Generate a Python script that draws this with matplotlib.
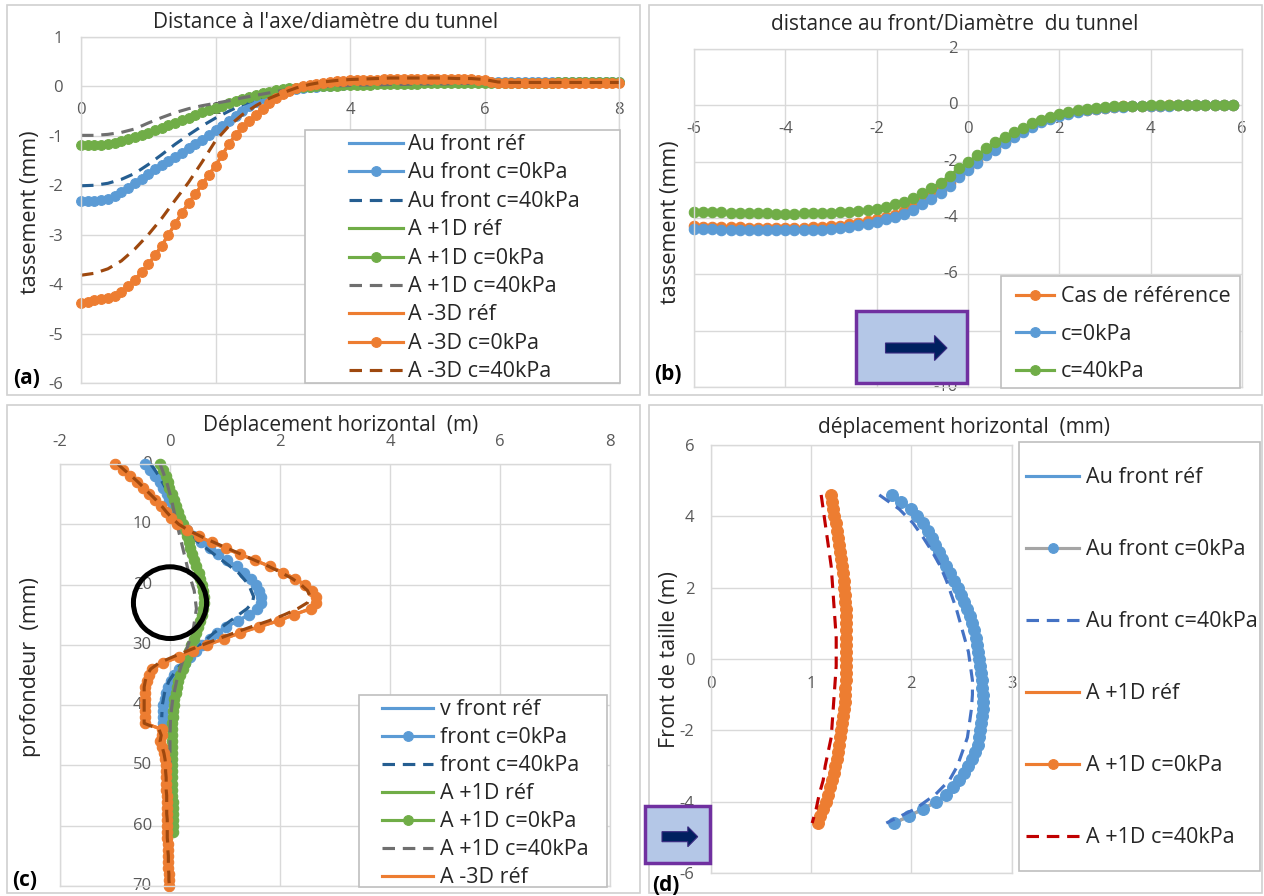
import numpy as np
import matplotlib
matplotlib.use('Agg')
import matplotlib.pyplot as plt
from matplotlib.patches import Rectangle, Ellipse, Polygon
from matplotlib.lines import Line2D

plt.rcParams['font.family'] = ['Open Sans', 'DejaVu Sans']
plt.rcParams['axes.unicode_minus'] = False

# ---------------- data ----------------
# (a) settlement vs distance to axis / tunnel diameter
dist_a = np.round(np.linspace(0, 8, 81), 2)
dist_a_dash = np.round(np.linspace(0, 8, 41), 2)

a_front_c0 = [-2.31, -2.31, -2.31, -2.30, -2.27, -2.22, -2.14, -2.05, -1.96, -1.87,
              -1.77, -1.68, -1.58, -1.50, -1.42, -1.34, -1.25, -1.17, -1.08, -0.99,
              -0.89, -0.80, -0.70, -0.60, -0.50, -0.40, -0.31, -0.23, -0.16, -0.11,
              -0.08, -0.06, -0.05, -0.03, -0.02, -0.01, 0.00, 0.01, 0.02, 0.03,
              0.04, 0.05, 0.05, 0.06, 0.06, 0.06, 0.07, 0.07, 0.07, 0.07,
              0.08, 0.08, 0.08, 0.08, 0.08, 0.08, 0.08, 0.08, 0.08, 0.08,
              0.08, 0.08, 0.08, 0.08, 0.08, 0.08, 0.08, 0.08, 0.09, 0.09,
              0.09, 0.09, 0.09, 0.09, 0.09, 0.09, 0.09, 0.09, 0.09, 0.09,
              0.09]
a_front_ref = list(a_front_c0)
a_front_c40 = [-2.01, -2.00, -1.96, -1.88, -1.76, -1.58, -1.38, -1.17, -0.98, -0.80,
               -0.64, -0.50, -0.37, -0.26, -0.17, -0.10, -0.05, -0.02, 0.00, 0.02,
               0.03, 0.04, 0.05, 0.06, 0.06, 0.07, 0.07, 0.07, 0.08, 0.08,
               0.08, 0.08, 0.08, 0.08, 0.08, 0.08, 0.08, 0.08, 0.08, 0.08,
               0.08]
a_p1d_c0 = [-1.19, -1.19, -1.19, -1.18, -1.16, -1.14, -1.11, -1.07, -1.03, -0.98,
            -0.94, -0.89, -0.84, -0.79, -0.73, -0.68, -0.63, -0.57, -0.52, -0.48,
            -0.43, -0.39, -0.34, -0.30, -0.26, -0.22, -0.18, -0.14, -0.11, -0.08,
            -0.06, -0.04, -0.03, -0.02, -0.01, 0.00, 0.00, 0.01, 0.01, 0.02,
            0.02, 0.03, 0.03, 0.03, 0.04, 0.04, 0.04, 0.05, 0.05, 0.05,
            0.05, 0.06, 0.06, 0.06, 0.06, 0.06, 0.06, 0.06, 0.06, 0.06,
            0.06, 0.07, 0.07, 0.07, 0.07, 0.07, 0.07, 0.07, 0.07, 0.07,
            0.07, 0.08, 0.08, 0.08, 0.08, 0.08, 0.08, 0.08, 0.08, 0.08,
            0.08]
a_p1d_ref = list(a_p1d_c0)
a_p1d_c40 = [-0.99, -0.99, -0.97, -0.93, -0.86, -0.74, -0.63, -0.53, -0.45, -0.39,
             -0.34, -0.29, -0.23, -0.18, -0.13, -0.08, -0.05, -0.02, 0.00, 0.01,
             0.02, 0.03, 0.03, 0.04, 0.04, 0.05, 0.05, 0.05, 0.06, 0.06,
             0.06, 0.07, 0.07, 0.07, 0.07, 0.07, 0.07, 0.07, 0.07, 0.07,
             0.07]
a_m3d_c0 = [-4.39, -4.36, -4.33, -4.31, -4.28, -4.23, -4.15, -4.04, -3.91, -3.76,
            -3.60, -3.42, -3.22, -3.00, -2.78, -2.56, -2.36, -2.18, -1.98, -1.79,
            -1.60, -1.39, -1.16, -0.98, -0.83, -0.70, -0.58, -0.45, -0.33, -0.24,
            -0.16, -0.09, -0.04, 0.00, 0.03, 0.05, 0.07, 0.09, 0.10, 0.11,
            0.12, 0.13, 0.13, 0.14, 0.14, 0.15, 0.15, 0.15, 0.15, 0.15,
            0.15, 0.15, 0.15, 0.15, 0.15, 0.15, 0.15, 0.15, 0.15, 0.14,
            0.13, 0.09, 0.07, 0.07, 0.07, 0.07, 0.07, 0.07, 0.07, 0.07,
            0.07, 0.07, 0.07, 0.07, 0.07, 0.07, 0.07, 0.07, 0.06, 0.06,
            0.06]
a_m3d_ref = list(a_m3d_c0)
a_m3d_c40 = [-3.82, -3.78, -3.69, -3.53, -3.29, -3.00, -2.67, -2.30, -1.94, -1.53,
             -1.10, -0.80, -0.57, -0.39, -0.24, -0.13, -0.03, 0.04, 0.09, 0.12,
             0.14, 0.15, 0.16, 0.17, 0.17, 0.17, 0.17, 0.17, 0.16, 0.16,
             0.14, 0.09, 0.08, 0.08, 0.08, 0.08, 0.08, 0.08, 0.08, 0.08,
             0.08]

# (b) settlement vs distance to the face / tunnel diameter
dist_b = np.round(np.linspace(-6, 5.8, 60), 2)
b_ref = [-4.30, -4.31, -4.31, -4.32, -4.33, -4.33, -4.34, -4.34, -4.34, -4.35,
         -4.35, -4.35, -4.34, -4.33, -4.32, -4.30, -4.27, -4.23, -4.18, -4.12,
         -4.05, -3.97, -3.88, -3.76, -3.60, -3.40, -3.22, -3.01, -2.76, -2.48,
         -2.22, -1.96, -1.71, -1.50, -1.29, -1.09, -0.89, -0.72, -0.57, -0.45,
         -0.35, -0.27, -0.21, -0.16, -0.12, -0.09, -0.06, -0.04, -0.03, -0.02,
         -0.01, -0.01, 0.00, 0.00, 0.00, 0.00, 0.00, 0.00, 0.00, 0.00]
b_c0 = [-4.39, -4.40, -4.40, -4.41, -4.42, -4.42, -4.43, -4.43, -4.43, -4.44,
        -4.44, -4.44, -4.43, -4.42, -4.41, -4.39, -4.36, -4.31, -4.26, -4.20,
        -4.13, -4.05, -3.97, -3.86, -3.70, -3.49, -3.32, -3.11, -2.85, -2.56,
        -2.30, -2.04, -1.78, -1.57, -1.35, -1.14, -0.93, -0.76, -0.60, -0.48,
        -0.37, -0.29, -0.23, -0.18, -0.13, -0.10, -0.07, -0.05, -0.04, -0.03,
        -0.02, -0.01, -0.01, 0.00, 0.00, 0.00, 0.00, 0.00, 0.00, 0.00]
b_c40 = [-3.78, -3.78, -3.79, -3.80, -3.81, -3.82, -3.83, -3.84, -3.84, -3.85,
         -3.85, -3.85, -3.84, -3.83, -3.82, -3.81, -3.79, -3.77, -3.75, -3.72,
         -3.68, -3.61, -3.52, -3.42, -3.30, -3.13, -2.95, -2.74, -2.50, -2.24,
         -2.02, -1.78, -1.53, -1.30, -1.11, -0.95, -0.80, -0.64, -0.51, -0.40,
         -0.29, -0.22, -0.17, -0.12, -0.08, -0.06, -0.04, -0.03, -0.02, -0.01,
         0.00, 0.00, 0.01, 0.01, 0.02, 0.02, 0.02, 0.02, 0.02, 0.02]

# (c) horizontal displacement vs depth
depth_m3d = np.arange(0, 71)
c_m3d_c0 = [-1.00, -0.86, -0.72, -0.60, -0.49, -0.38, -0.27, -0.17, -0.07, 0.02,
            0.13, 0.30, 0.52, 0.76, 1.01, 1.28, 1.55, 1.82, 2.05, 2.27,
            2.45, 2.58, 2.66, 2.66, 2.56, 2.25, 1.98, 1.62, 1.28, 0.98,
            0.68, 0.42, 0.16, -0.12, -0.32, -0.39, -0.42, -0.45, -0.45, -0.45,
            -0.45, -0.45, -0.45, -0.46, -0.15, -0.14, -0.19, -0.14, -0.11, -0.09,
            -0.08, -0.08, -0.07, -0.07, -0.07, -0.06, -0.06, -0.06, -0.06, -0.05,
            -0.05, -0.05, -0.05, -0.04, -0.04, -0.03, -0.03, -0.03, -0.02, -0.02,
            -0.01]
c_m3d_ref = list(c_m3d_c0)
c_m3d_c40 = [-0.95, -0.83, -0.70, -0.58, -0.47, -0.36, -0.25, -0.15, -0.06, 0.04,
             0.16, 0.34, 0.56, 0.80, 1.05, 1.30, 1.55, 1.80, 2.02, 2.22,
             2.38, 2.50, 2.55, 2.50, 2.32, 2.08, 1.80, 1.48, 1.17, 0.88,
             0.59, 0.32, 0.05, -0.20, -0.35, -0.42, -0.45, -0.47, -0.47, -0.47,
             -0.47, -0.47, -0.47, -0.47, -0.20, -0.16, -0.18, -0.14, -0.11, -0.09,
             -0.08, -0.08, -0.07, -0.07, -0.07, -0.06, -0.06, -0.06, -0.06, -0.05,
             -0.05, -0.05, -0.05, -0.04, -0.04, -0.03, -0.03, -0.03, -0.02, -0.02,
             -0.01]
depth_front = np.arange(0, 44)
c_front_c0 = [-0.46, -0.36, -0.27, -0.19, -0.12, -0.06, -0.01, 0.05, 0.10, 0.16,
              0.22, 0.30, 0.42, 0.57, 0.73, 0.88, 1.04, 1.21, 1.35, 1.48,
              1.56, 1.62, 1.66, 1.65, 1.59, 1.43, 1.24, 1.02, 0.86, 0.72,
              0.59, 0.47, 0.37, 0.27, 0.17, 0.08, 0.01, -0.04, -0.07, -0.10,
              -0.12, -0.13, -0.13, -0.12]
c_front_ref = list(c_front_c0)
depth_front_c40 = [0, 2, 4, 6, 8, 10, 12, 14, 16, 18, 20, 22, 23, 24, 26, 28, 30, 32, 34, 36, 38, 40, 42]
c_front_c40 = [-0.35, -0.20, -0.08, 0.03, 0.12, 0.22, 0.38, 0.66, 0.95, 1.24, 1.43, 1.52,
               1.50, 1.40, 1.10, 0.80, 0.55, 0.33, 0.13, -0.02, -0.10, -0.14, -0.15]
depth_p1d = np.arange(0, 62)
c_p1d_c0 = [-0.18, -0.13, -0.08, -0.04, -0.01, 0.03, 0.07, 0.11, 0.15, 0.19,
            0.23, 0.27, 0.31, 0.34, 0.37, 0.40, 0.44, 0.48, 0.52, 0.55,
            0.58, 0.60, 0.61, 0.61, 0.60, 0.58, 0.55, 0.51, 0.47, 0.43,
            0.38, 0.34, 0.30, 0.27, 0.23, 0.19, 0.15, 0.12, 0.10, 0.08,
            0.07, 0.06, 0.05, 0.04, 0.04, 0.03, 0.03, 0.03, 0.03, 0.03,
            0.03, 0.04, 0.04, 0.04, 0.04, 0.04, 0.05, 0.05, 0.05, 0.05,
            0.05, 0.06]
c_p1d_ref = list(c_p1d_c0)
depth_p1d_c40 = [0, 3, 6, 9, 12, 15, 18, 21, 24, 27, 30, 33, 36, 39, 42, 45, 48, 51]
c_p1d_c40 = [-0.18, -0.06, 0.03, 0.10, 0.18, 0.26, 0.34, 0.44, 0.48, 0.43,
             0.33, 0.22, 0.12, 0.05, 0.01, 0.00, 0.00, 0.00]

# (d) horizontal displacement over the face height
height_d = np.round(np.linspace(4.6, -4.6, 47), 2)
height_d_dash = np.round(np.linspace(4.6, -4.6, 24), 2)
d_front_c0 = [1.81, 1.90, 2.00, 2.06, 2.12, 2.17, 2.21, 2.24, 2.28, 2.31,
              2.35, 2.39, 2.43, 2.47, 2.50, 2.53, 2.56, 2.59, 2.61, 2.63,
              2.65, 2.66, 2.67, 2.68, 2.69, 2.70, 2.71, 2.71, 2.72, 2.72,
              2.72, 2.71, 2.70, 2.69, 2.68, 2.67, 2.64, 2.61, 2.57, 2.53,
              2.48, 2.42, 2.35, 2.25, 2.12, 1.98, 1.83]
d_front_ref = list(d_front_c0)
d_front_c40 = [1.68, 1.88, 2.02, 2.12, 2.21, 2.29, 2.35, 2.40, 2.45, 2.49,
               2.53, 2.57, 2.59, 2.61, 2.61, 2.60, 2.58, 2.56, 2.51, 2.46,
               2.38, 2.24, 2.04, 1.75]
d_p1d_c0 = [1.20, 1.21, 1.22, 1.23, 1.25, 1.26, 1.27, 1.28, 1.29, 1.30,
            1.31, 1.32, 1.33, 1.33, 1.34, 1.34, 1.35, 1.35, 1.35, 1.35,
            1.35, 1.35, 1.35, 1.35, 1.35, 1.35, 1.35, 1.34, 1.34, 1.34,
            1.33, 1.32, 1.31, 1.30, 1.29, 1.28, 1.27, 1.26, 1.24, 1.23,
            1.21, 1.19, 1.17, 1.15, 1.12, 1.09, 1.07]
d_p1d_ref = list(d_p1d_c0)
d_p1d_c40 = [1.10, 1.12, 1.14, 1.16, 1.18, 1.20, 1.21, 1.22, 1.23, 1.24,
             1.25, 1.25, 1.25, 1.24, 1.23, 1.22, 1.21, 1.20, 1.17, 1.14,
             1.12, 1.08, 1.05, 1.01]

# ---------------- style ----------------
BLUE = '#5b9bd5'
ORANGE = '#ed7d31'
GREEN = '#70ad47'
GRAY = '#a5a5a5'
DBLUE = '#255e91'
MBLUE = '#4472c4'
DORANGE = '#9e480e'
DGRAY = '#6f6f6f'
RED = '#c00000'
GRID = '#d9d9d9'
TICK = '#595959'
TXT = '#262626'
LW = 2.25
DASH = (4, 2.5)
FS = 15.5

W, H = 1264, 896
fig = plt.figure(figsize=(W / 100, H / 100), dpi=100)


def fx(x):
    return x / W


def fy(y):
    return 1 - y / H


def axes_px(l, t, r, b):
    ax = fig.add_axes([fx(l), fy(b), (r - l) / W, (b - t) / H])
    for s in ax.spines.values():
        s.set_color(GRID)
        s.set_linewidth(1)
    ax.grid(True, color=GRID, lw=1)
    ax.set_axisbelow(True)
    ax.tick_params(length=0, colors=TICK, labelsize=12)
    return ax


def box_px(l, t, r, b, ec, fc='none', lw=1.0, z=3):
    fig.add_artist(Rectangle((fx(l), fy(b)), (r - l) / W, (b - t) / H,
                             transform=fig.transFigure, ec=ec, fc=fc, lw=lw, zorder=z))


def style(color, dashed=False, marker=False, mcolor=None, ms=7.5):
    st = dict(color=color, lw=LW)
    if dashed:
        st['dashes'] = DASH
    if marker:
        mc = mcolor or color
        st.update(marker='o', ms=ms, mfc=mc, mec=mc, mew=0.8)
    return st


def legend_px(entries, frame, x0, x1, tx, y0, dy):
    # Excel-like legend box: frame, line sample with one centred marker, label
    box_px(*frame, ec='#bfbfbf', fc='white', lw=1.2, z=4)
    for i, (label, st) in enumerate(entries):
        y = fy(y0 + i * dy)
        line_st = {k: v for k, v in st.items() if k not in ('marker', 'ms', 'mfc', 'mec', 'mew')}
        fig.add_artist(Line2D([fx(x0), fx(x1)], [y, y], transform=fig.transFigure,
                              zorder=5, **line_st))
        if 'marker' in st:
            fig.add_artist(Line2D([fx((x0 + x1) / 2)], [y], transform=fig.transFigure,
                                  ls='none', marker='o', ms=min(st['ms'], 7), mfc=st['mfc'],
                                  mec=st['mec'], mew=st['mew'], zorder=6))
        fig.text(fx(tx), fy(y0 + i * dy + 7), label, ha='left', va='baseline',
                 fontsize=FS, color=TXT, zorder=6)


def arrow_box(l, t, r, b, x0, xb, tip, yc, sh, hh):
    box_px(l, t, r, b, ec='#7030a0', fc='#b4c7e7', lw=2.5, z=7)
    pts = [(x0, yc - sh), (xb, yc - sh), (xb, yc - hh), (tip, yc),
           (xb, yc + hh), (xb, yc + sh), (x0, yc + sh)]
    fig.add_artist(Polygon([(fx(x), fy(y)) for x, y in pts], closed=True,
                           transform=fig.transFigure, fc='#002060', ec='#3a2a80',
                           lw=0.8, zorder=8))


def plot_series(ax, series):
    for x, y, label, st in series:
        ax.plot(x, y, clip_on=False, **st)


# panel frames
box_px(7, 5, 640, 395, ec='#d0d0d0', lw=1.2, z=1)
box_px(649, 5, 1262, 395, ec='#d0d0d0', lw=1.2, z=1)
box_px(7, 405, 640, 893, ec='#d0d0d0', lw=1.2, z=1)
box_px(649, 405, 1262, 893, ec='#d0d0d0', lw=1.2, z=1)

# ---------------- (a) ----------------
ax = axes_px(81, 37, 619, 383)
ax.set_xlim(0, 8)
ax.set_ylim(-6, 1)
ax.set_xticks([0, 2, 4, 6, 8])
ax.set_yticks(range(-6, 2))
ax.tick_params(axis='x', labelbottom=False)
ax.tick_params(axis='y', pad=13)
for v in [0, 2, 4, 6, 8]:
    ax.text(v, -0.48, str(v), ha='center', va='center', color=TICK, fontsize=12, zorder=1)
sa = [
    (dist_a, a_front_ref, 'Au front réf', style(BLUE)),
    (dist_a, a_front_c0, 'Au front c=0kPa', style(BLUE, marker=True, ms=7)),
    (dist_a_dash, a_front_c40, 'Au front c=40kPa', style(DBLUE, dashed=True)),
    (dist_a, a_p1d_ref, 'A +1D réf', style(GREEN)),
    (dist_a, a_p1d_c0, 'A +1D c=0kPa', style(GREEN, marker=True, ms=7)),
    (dist_a_dash, a_p1d_c40, 'A +1D c=40kPa', style(DGRAY, dashed=True)),
    (dist_a, a_m3d_ref, 'A -3D réf', style(ORANGE)),
    (dist_a, a_m3d_c0, 'A -3D c=0kPa', style(ORANGE, marker=True, ms=7)),
    (dist_a_dash, a_m3d_c40, 'A -3D c=40kPa', style(DORANGE, dashed=True)),
]
plot_series(ax, sa)
legend_px([(s[2], s[3]) for s in sa], (305, 130, 620, 383), 349, 403, 408, 143, 28.4)
fig.text(fx(326), fy(23), "Distance à l'axe/diamètre du tunnel", ha='center', va='center',
         fontsize=15, color=TXT)
fig.text(fx(31), fy(212), 'tassement (mm)', rotation=90, ha='center', va='center',
         fontsize=FS, color=TXT)
fig.text(fx(13), fy(378), '(a)', ha='left', va='center', fontsize=15, fontweight='bold')

# ---------------- (b) ----------------
ax = axes_px(694, 49, 1242, 387)
ax.set_xlim(-6, 6)
ax.set_ylim(-10, 2)
ax.set_xticks(range(-6, 7, 2))
ax.set_yticks(range(-10, 3, 2))
ax.tick_params(labelbottom=False, labelleft=False)
for v in range(-6, 7, 2):
    ax.text(v, -0.85, str(v), ha='center', va='center', color=TICK, fontsize=12, zorder=1)
for v in range(-10, 3, 2):
    ax.text(-0.22, v, str(v), ha='right', va='center', color=TICK, fontsize=12, zorder=1)
sb = [
    (dist_b, b_ref, 'Cas de référence', style(ORANGE, marker=True, ms=7.5)),
    (dist_b, b_c0, 'c=0kPa', style(BLUE, marker=True, ms=7.5)),
    (dist_b, b_c40, 'c=40kPa', style(GREEN, marker=True, ms=7.5)),
]
plot_series(ax, sb)
legend_px([(s[2], s[3]) for s in sb], (1001, 276, 1240, 388), 1016, 1054, 1061, 295, 37.5)
arrow_box(856, 311, 967, 383, 885.5, 934.5, 947, 348, 5, 12.5)
fig.text(fx(955), fy(24), 'distance au front/Diamètre  du tunnel', ha='center', va='center',
         fontsize=15, color=TXT)
fig.text(fx(670), fy(222), 'tassement (mm)', rotation=90, ha='center', va='center',
         fontsize=FS, color=TXT)
fig.text(fx(654), fy(375), '(b)', ha='left', va='center', fontsize=15, fontweight='bold')

# ---------------- (c) ----------------
ax = axes_px(60, 464, 610, 886)
ax.set_xlim(-2, 8)
ax.set_ylim(70, 0)
ax.set_xticks(range(-2, 9, 2))
ax.set_yticks(range(0, 71, 10))
ax.xaxis.tick_top()
ax.tick_params(axis='x', pad=10)
ax.tick_params(axis='y', labelleft=False)
for v in range(0, 71, 10):
    ax.text(-0.33, v, str(v), ha='right', va='center', color=TICK, fontsize=12, zorder=1)
sc = [
    (c_front_ref, depth_front, 'v front réf', style(BLUE)),
    (c_front_c0, depth_front, 'front c=0kPa', style(BLUE, marker=True)),
    (c_front_c40, depth_front_c40, 'front c=40kPa', style(DBLUE, dashed=True)),
    (c_p1d_ref, depth_p1d, 'A +1D réf', style(GREEN)),
    (c_p1d_c0, depth_p1d, 'A +1D c=0kPa', style(GREEN, marker=True)),
    (c_p1d_c40, depth_p1d_c40, 'A +1D c=40kPa', style(DGRAY, dashed=True)),
    (c_m3d_ref, depth_m3d, 'A -3D réf', style(ORANGE)),
    (c_m3d_c0, depth_m3d, 'A -3D c=0kPa', style(ORANGE, marker=True)),
    (c_m3d_c40, depth_m3d, 'A -3D c=40kPa', style(DORANGE, dashed=True)),
]
plot_series(ax, sc)
ax.add_patch(Ellipse((0, 23), 1.33, 11.9, fill=False, ec='black', lw=3.6, zorder=8))
# the legend box of the original is cut after the seventh entry
legend_px([(s[2], s[3]) for s in sc[:7]], (359, 695, 607, 887), 382, 433, 440, 708, 28)
fig.text(fx(341), fy(425), 'Déplacement horizontal  (m)', ha='center', va='center',
         fontsize=15, color=TXT)
fig.text(fx(31), fy(667), 'profondeur  (mm)', rotation=90, ha='center', va='center',
         fontsize=FS, color=TXT)
fig.text(fx(12), fy(880), '(c)', ha='left', va='center', fontsize=15, fontweight='bold')

# ---------------- (d) ----------------
ax = axes_px(711, 445, 1011.5, 873)
ax.set_xlim(0, 3)
ax.set_ylim(-6, 6)
ax.set_xticks([0, 1, 2, 3])
ax.set_yticks(range(-6, 7, 2))
ax.tick_params(axis='x', labelbottom=False)
ax.tick_params(axis='y', pad=12)
for v in [0, 1, 2, 3]:
    ax.text(v, -0.7, str(v), ha='center', va='center', color=TICK, fontsize=12, zorder=1)
sd = [
    (d_front_ref, height_d, 'Au front réf', style(BLUE)),
    (d_front_c0, height_d, 'Au front c=0kPa', style(GRAY, marker=True, mcolor=BLUE, ms=8.5)),
    (d_front_c40, height_d_dash, 'Au front c=40kPa', style(MBLUE, dashed=True)),
    (d_p1d_ref, height_d, 'A +1D réf', style(ORANGE)),
    (d_p1d_c0, height_d, 'A +1D c=0kPa', style(ORANGE, marker=True, ms=8.5)),
    (d_p1d_c40, height_d_dash, 'A +1D c=40kPa', style(RED, dashed=True)),
]
plot_series(ax, sd)
legend_px([(s[2], s[3]) for s in sd], (1019, 442, 1260, 871), 1026, 1079, 1086, 476, 72)
arrow_box(645, 806, 710, 863, 662, 687.8, 697.7, 836.7, 5, 10)
fig.text(fx(964), fy(427), 'déplacement horizontal  (mm)', ha='center', va='center',
         fontsize=15, color=TXT)
fig.text(fx(669), fy(660), 'Front de taille (m)', rotation=90, ha='center', va='center',
         fontsize=FS, color=TXT)
fig.text(fx(652), fy(885), '(d)', ha='left', va='center', fontsize=15, fontweight='bold')

fig.savefig('out.png', dpi=100)
